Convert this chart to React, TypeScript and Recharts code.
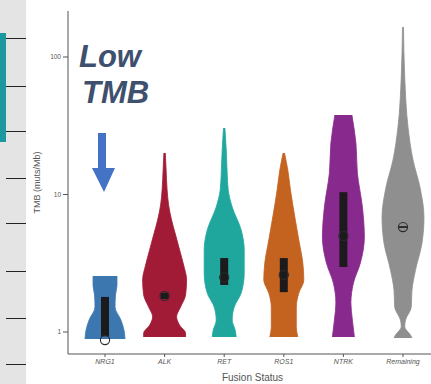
import { ComposedChart, Area, Scatter, XAxis, YAxis } from "recharts";

const categories = ["NRG1", "ALK", "RET", "ROS1", "NTRK", "Remaining"];
const colors = ["#3c77b0", "#a11b36", "#1fa79e", "#c4621f", "#882a8d", "#8f8f8f"];

// violin outlines: TMB level (muts/Mb) and half-width in category units
const nrg1Tmb = [0.89, 1.03, 1.22, 1.52, 1.86, 2.2, 2.55];
const nrg1Width = [0.336, 0.319, 0.268, 0.168, 0.176, 0.201, 0.201];

const alkTmb = [0.92, 0.98, 1.12, 1.29, 1.52, 1.86, 2.39, 3.07, 3.95, 5.07, 6.52, 8.39, 10.8, 15.1, 20];
const alkWidth = [0.352, 0.352, 0.252, 0.201, 0.268, 0.352, 0.369, 0.319, 0.252, 0.185, 0.117, 0.067, 0.042, 0.025, 0.012];

const retTmb = [0.92, 1.03, 1.22, 1.52, 1.92, 2.69, 3.95, 5.52, 8.11, 10.8, 14.3, 21.1, 30.4];
const retWidth = [0.201, 0.185, 0.134, 0.168, 0.285, 0.336, 0.336, 0.285, 0.134, 0.067, 0.05, 0.034, 0.012];

const ros1Tmb = [0.92, 1.09, 1.52, 1.92, 2.39, 3.18, 4.67, 6.86, 10.8, 15.1, 20];
const ros1Width = [0.235, 0.21, 0.21, 0.252, 0.336, 0.319, 0.252, 0.185, 0.112, 0.067, 0.012];

const ntrkTmb = [0.92, 1.22, 1.63, 2.27, 3.18, 4.91, 8.11, 14.3, 23.7, 37.9];
const ntrkWidth = [0.185, 0.151, 0.126, 0.168, 0.285, 0.352, 0.319, 0.235, 0.21, 0.143];

const remainingTmb = [0.905, 0.95, 1.09, 1.22, 1.52, 2.02, 2.82, 4.44, 6.86, 11.3, 17.8, 31, 71.5, 165];
const remainingWidth = [0.151, 0.126, 0.029, 0.042, 0.139, 0.151, 0.21, 0.319, 0.352, 0.285, 0.168, 0.084, 0.029, 0.008];

// interquartile bars and medians
const boxLow = [0.93, 1.74, 2.2, 1.95, 2.97, 5.72];
const boxHigh = [1.8, 1.93, 3.45, 3.45, 10.4, 5.88];
const medians = [0.875, 1.83, 2.5, 2.6, 5.0, 5.8];

const violinTmb = [nrg1Tmb, alkTmb, retTmb, ros1Tmb, ntrkTmb, remainingTmb];
const violinWidth = [nrg1Width, alkWidth, retWidth, ros1Width, ntrkWidth, remainingWidth];

const violins = categories.map((name, i) => ({
  name,
  pos: i + 1,
  color: colors[i],
  data: violinTmb[i].map((y, j) => ({ y, w: violinWidth[i][j] })),
}));

const boxes = categories.map((name, i) => ({
  name,
  pos: i + 1,
  data: [
    { y: boxLow[i], w: 0.067 },
    { y: boxHigh[i], w: 0.067 },
  ],
}));

const medianPoints = medians.map((y, i) => ({ x: i + 1, y }));

const MedianRing = (props: any) => {
  const { cx, cy } = props;
  if (cx == null || cy == null) return null;
  return <circle cx={cx} cy={cy} r={4.6} fill="none" stroke="#2a2a2a" strokeWidth={1.1} />;
};

const App = () => {
  return (
    <div style={{ position: "absolute", left: 0, top: 0, width: 431, height: 384, background: "#fff", fontFamily: "Liberation Sans, Arial, sans-serif" }}>
      {/* neighbouring slide strip on the left */}
      <div style={{ position: "absolute", left: 0, top: 0, width: 26, height: 384, background: "#e4e4e4" }} />
      <div style={{ position: "absolute", left: 0, top: 33, width: 6, height: 109, background: "#1b98a0" }} />
      {[38, 86, 131, 178, 223, 271, 318, 364].map((t) => (
        <div key={t} style={{ position: "absolute", left: 6, top: t, width: 20, height: 1, background: "#222" }} />
      ))}
      <div style={{ position: "absolute", left: 0, top: 0 }}>
        <ComposedChart
          width={431}
          height={384}
          layout="vertical"
          margin={{ top: 11, right: 0, bottom: 0, left: 0 }}
        >
          <XAxis
            type="number"
            domain={[0.379, 6.47]}
            allowDataOverflow
            ticks={[1, 2, 3, 4, 5, 6]}
            tickFormatter={(v: number) => categories[v - 1]}
            height={30}
            tickSize={3}
            tickMargin={2}
            stroke="#555"
            tick={{ fontSize: 7, fontStyle: "italic", fill: "#555" }}
            label={{ value: "Fusion Status", position: "insideBottom", offset: 3, dx: 3, fontSize: 10, fill: "#555" }}
          />
          <YAxis
            type="number"
            dataKey="y"
            scale="log"
            reversed
            domain={[0.692, 216]}
            allowDataOverflow
            ticks={[1, 10, 100]}
            width={68}
            tickSize={5}
            tickMargin={2}
            stroke="#555"
            tick={{ fontSize: 6.5, fill: "#555" }}
            label={{ value: "TMB (muts/Mb)", angle: -90, position: "center", dx: 3, fontSize: 9, fill: "#555" }}
          />
          {violins.map((v) => (
            <Area
              key={v.name}
              data={v.data}
              dataKey={(d: any) => [v.pos - d.w, v.pos + d.w]}
              type="monotone"
              fill={v.color}
              fillOpacity={1}
              stroke={v.color}
              strokeWidth={0.8}
              dot={false}
              activeDot={false}
              isAnimationActive={false}
            />
          ))}
          {boxes.map((b) => (
            <Area
              key={"box-" + b.name}
              data={b.data}
              dataKey={(d: any) => [b.pos - d.w, b.pos + d.w]}
              type="linear"
              fill="#1c1a1d"
              fillOpacity={1}
              stroke="none"
              dot={false}
              activeDot={false}
              isAnimationActive={false}
            />
          ))}
          <Scatter data={medianPoints} dataKey="x" shape={MedianRing} isAnimationActive={false} />
        </ComposedChart>
      </div>
      <svg width={431} height={384} style={{ position: "absolute", left: 0, top: 0, pointerEvents: "none" }}>
        <text x={79} y={67} fontSize={31} fontWeight="bold" fontStyle="italic" fill="#3e506e" fontFamily="Liberation Sans, Arial, sans-serif">
          Low
        </text>
        <text x={82} y={103} fontSize={31} fontWeight="bold" fontStyle="italic" fill="#3e506e" fontFamily="Liberation Sans, Arial, sans-serif">
          TMB
        </text>
        <polygon points="98,133 106,133 106,168 115,168 104,192 92,168 98,168" fill="#4472c4" />
      </svg>
    </div>
  );
};

export default App;
